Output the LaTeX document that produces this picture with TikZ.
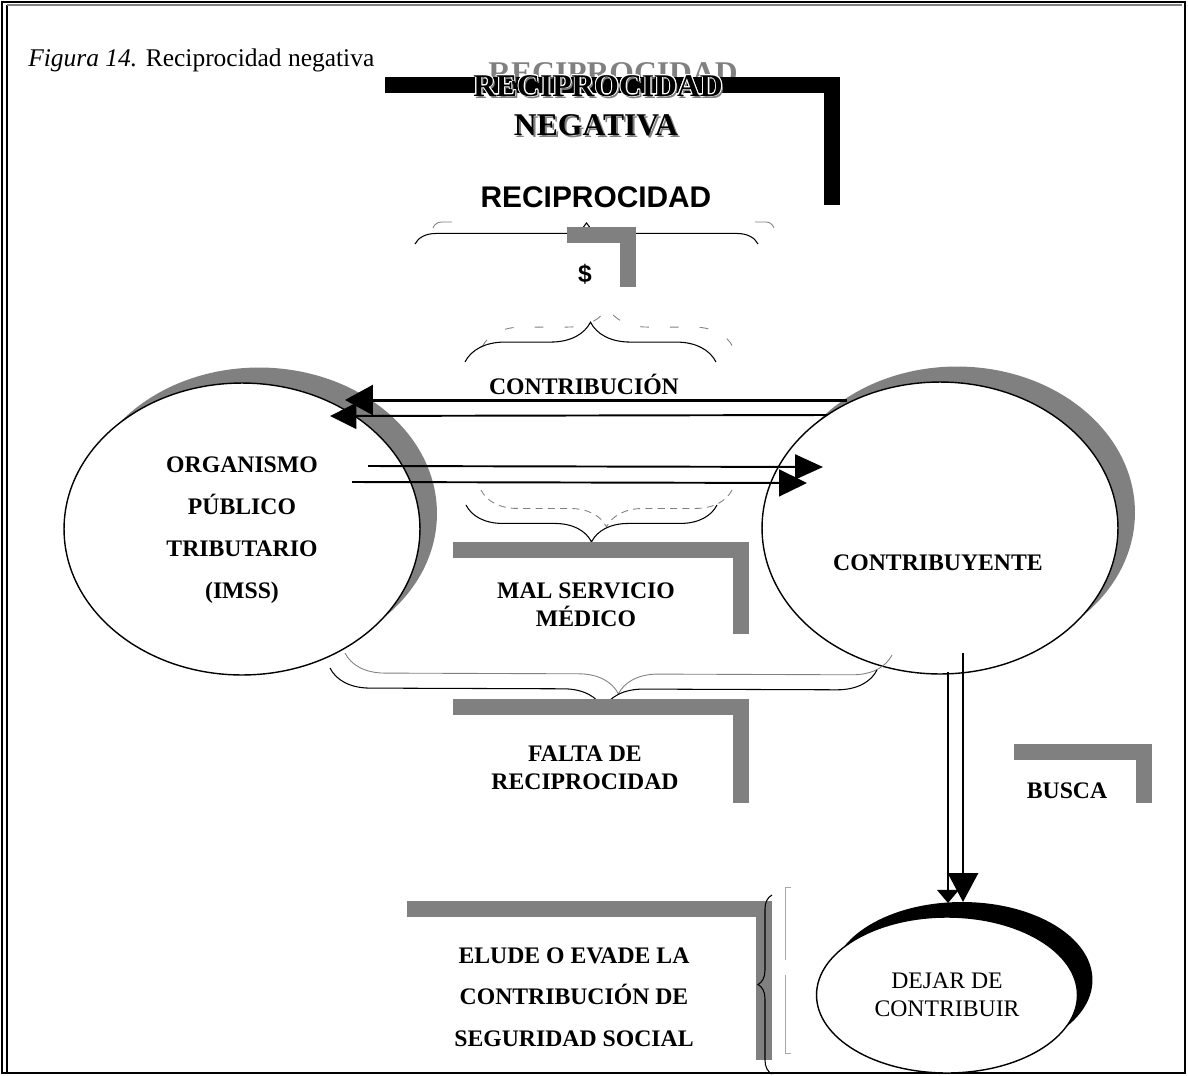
\documentclass[tikz,border=0pt]{standalone}
\usepackage{fontspec}
\setmainfont{Liberation Serif}
\setsansfont{Liberation Sans}
\usepackage[copies]{contour}
\contourlength{0.5pt}
\usetikzlibrary{arrows.meta}
\usetikzlibrary{shapes.geometric}
\usetikzlibrary{decorations.pathreplacing}
\usetikzlibrary{shadows}

\begin{document}
\begin{tikzpicture}[x=0.02cm, y=-0.02cm,
    txt/.style={font=\bfseries\fontsize{13.5}{15.9}\selectfont, align=center, inner sep=0pt},
    big/.style={font=\bfseries\fontsize{18}{20}\selectfont, inner sep=0pt, anchor=base},
    oval/.style={ellipse, draw, line width=0.8pt, fill=white, minimum width=7.12cm,
        minimum height=5.84cm, inner sep=0pt,
        drop shadow={shadow xshift=0.34cm, shadow yshift=0.31cm, fill=gray, opacity=1}},
    lbar/.style={gray, line width=0.32cm, line join=miter},
    llave/.style={decorate, decoration={brace, amplitude=#1}, line width=0.6pt},
    ghost/.style={gray, line width=0.5pt},
]

    \useasboundingbox (0,0) rectangle (1188,1076);

    % Frame
    \draw[line width=0.6pt] (2,2) rectangle (1185,1073);
    \draw[line width=1.2pt] (1185,2) -- (1185,1073);
    \draw[line width=0.6pt] (7,5) -- (7,1073);
    \draw[gray, line width=1pt] (7,5) -- (1182,5);

    \node[anchor=base west, inner sep=0pt, font=\fontsize{14.5}{17}\selectfont] (titulo) at (28,66)
        {\textit{Figura 14.} Reciprocidad negativa};

    % Heading with its bar
    \node[big, anchor=north, gray] (fantasma) at (613,62) {RECIPROCIDAD};
    \draw[lbar, black] (385,84.5) -| (832,205);
    \node[big, gray] (sombra1) at (600,98) {RECIPROCIDAD};
    \node[big] (recneg1) at (598,96) {\contour{white}{RECIPROCIDAD}};
    \node[big, gray] (sombra2) at (598,137) {NEGATIVA};
    \node[big] (recneg2) at (596,135) {NEGATIVA};

    \node[anchor=base, inner sep=0pt, font=\sffamily\bfseries\fontsize{17}{20}\selectfont] (recip) at (596,207) {RECIPROCIDAD};

    % Braces
    \draw[llave=12pt] (415,244) -- (758,244);
    \draw[ghost] (452,222) -- (442,222) to[out=180, in=70] (433,228);
    \draw[ghost] (755,222) -- (766,222) to[out=0, in=110] (774,228);

    \draw[lbar] (567,235) -| (628,287);
    \node[font=\sffamily\bfseries\fontsize{14}{16}\selectfont, inner sep=0pt] (dinero) at (585,274) {\$};

    \draw[llave=22.7pt, ghost, dash pattern=on 5pt off 12pt] (482,347) -- (733,347);
    \draw[llave=22.7pt] (465,362) -- (716,362);
    \node[txt, anchor=base] (contrib) at (584,394) {CONTRIBUCIÓN};

    % Ellipses
    \node[oval] (organismo) at (242,529) {};
    \node[txt, font=\bfseries\fontsize{13.5}{23.8}\selectfont] (organismo txt) at (242,530)
        {ORGANISMO\\PÚBLICO\\TRIBUTARIO\\(IMSS)};
    \node[oval] (contribuyente) at (940,528) {};
    \node[txt] (contribuyente txt) at (938,563) {CONTRIBUYENTE};

    % Arrows between the ellipses
    \coordinate (pago1) at (847,400);
    \coordinate (cobro1) at (345,400);
    \coordinate (pago2) at (827,415);
    \coordinate (cobro2) at (330,416);
    \coordinate (serv1) at (368,466);
    \coordinate (recibe1) at (823,467);
    \coordinate (serv2) at (352,482);
    \coordinate (recibe2) at (807,483);

    \draw[line width=1.7pt, -{Triangle[length=15.9pt, width=17pt]}] (pago1) -- (cobro1);
    \draw[line width=1.1pt, -{Triangle[length=15pt, width=14.7pt]}] (pago2) -- (cobro2);
    \draw[line width=1.1pt, -{Triangle[length=15.9pt, width=14.2pt]}] (serv1) -- (recibe1);
    \draw[line width=1.1pt, -{Triangle[length=15.9pt, width=15.3pt]}] (serv2) -- (recibe2);

    % Mal servicio
    \draw[llave=21pt, ghost, dash pattern=on 4pt off 3pt] (732,490) -- (481,490);
    \draw[llave=21pt] (717,505) -- (466,505);
    \draw[lbar] (453,550) -| (741,634);
    \node[txt] (malserv) at (586,605) {MAL SERVICIO\\MÉDICO};

    % Falta de reciprocidad
    \draw[llave=22.7pt, ghost] (892,655) -- (345,653);
    \draw[llave=22.7pt] (877,670) -- (330,668);
    \draw[lbar] (453,707) -| (741,803);
    \node[txt] (falta) at (585,768) {FALTA DE\\RECIPROCIDAD};

    % Busca
    \draw[lbar] (1014,752) -| (1144,803);
    \node[txt] (busca) at (1067,791) {BUSCA};

    \node[ellipse, draw, line width=0.8pt, fill=white, minimum width=5.22cm, minimum height=3.12cm,
        inner sep=0pt, drop shadow={shadow xshift=0.3cm, shadow yshift=0.3cm, fill=black, opacity=1},
        font=\fontsize{13.5}{15.9}\selectfont, align=center] (dejar) at (947,995) {DEJAR DE\\CONTRIBUIR};

    \coordinate (busca1) at (948,672);
    \coordinate (busca2) at (963,653);
    \draw[line width=0.6pt, -{Triangle[length=7.5pt, width=12.5pt]}] (busca1) -- (948,903);
    \draw[line width=1.7pt, -{Triangle[length=16.4pt, width=17pt]}] (busca2) -- (963,902);

    % Elude o evade
    \draw[lbar] (407,909) -| (764,1060);
    \draw[llave=8pt] (772,1074) -- (772,895);
    \draw[ghost, gray!70] (785,887) -- (785,960) (785,975) -- (785,1053);
    \draw[ghost, gray!70] (785,887) -- (791,887) (785,1053) -- (791,1053);
    \node[txt, font=\bfseries\fontsize{13.5}{23.5}\selectfont] (elude) at (574,997)
        {ELUDE O EVADE LA\\CONTRIBUCIÓN DE\\SEGURIDAD SOCIAL};

\end{tikzpicture}
\end{document}
